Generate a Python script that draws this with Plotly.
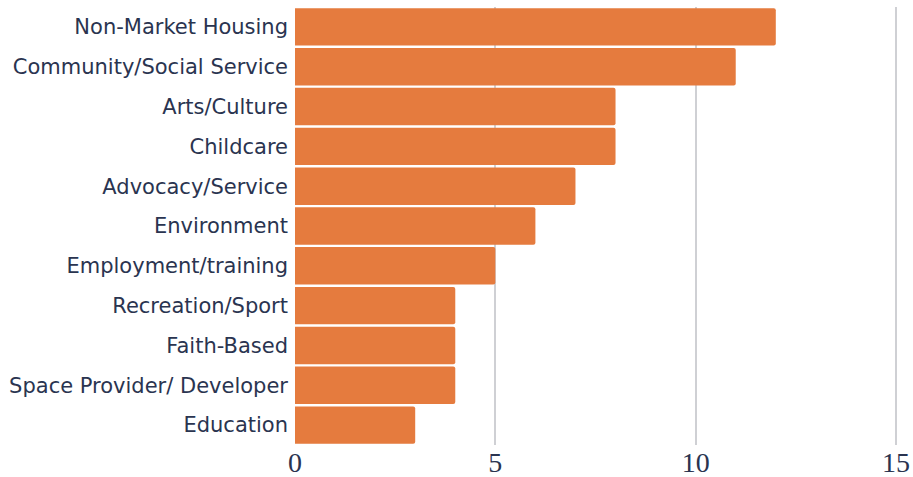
import plotly.graph_objects as go

categories = ["Non-Market Housing", "Community/Social Service", "Arts/Culture", "Childcare",
              "Advocacy/Service", "Environment", "Employment/training", "Recreation/Sport",
              "Faith-Based", "Space Provider/ Developer", "Education"]
values = [12, 11, 8, 8, 7, 6, 5, 4, 4, 4, 3]
x_ticks = [0, 5, 10, 15]

fig = go.Figure(go.Bar(
    x=values, y=categories, orientation="h",
    marker=dict(color="#E57B3E", line=dict(width=0)),
    hoverinfo="x+y",
))
fig.update_layout(
    width=913, height=477,
    margin=dict(l=295, r=15, t=7, b=32),
    paper_bgcolor="white", plot_bgcolor="white",
    bargap=0.06,
    barcornerradius=2,
    showlegend=False,
    xaxis=dict(range=[0, 15.05], tickvals=x_ticks, showgrid=True, gridcolor="#cfd0d4", gridwidth=2,
               zeroline=False, showline=False, ticks="", automargin=False, ticklabelstandoff=-2,
               tickfont=dict(family="Liberation Serif", size=28, color="#2a3450")),
    yaxis=dict(autorange="reversed", showgrid=False, showline=False, ticks="", ticklabelstandoff=6,
               automargin=False,
               tickfont=dict(family="DejaVu Sans", size=21, color="#2a3450")),
)
fig.write_html("out.html", config={"displayModeBar": False},
               post_script="document.body.style.margin='0';document.body.style.overflow='hidden';")
